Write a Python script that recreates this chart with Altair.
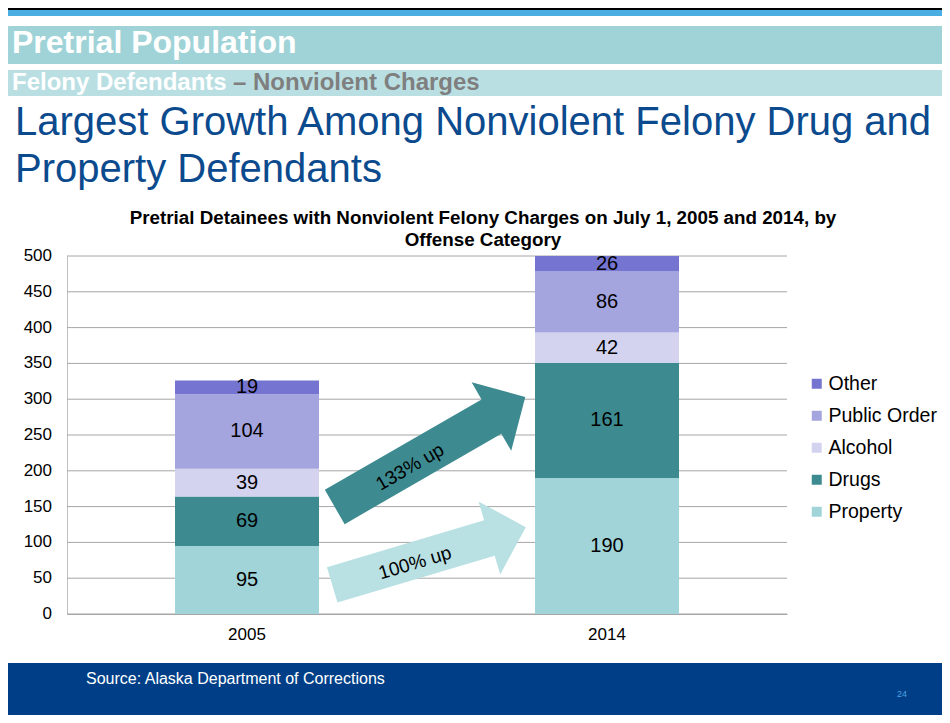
import altair as alt
import pandas as pd

# ---- data ----
years = ["2005", "2014"]
categories = ["Property", "Drugs", "Alcohol", "Public Order", "Other"]
values_2005 = [95, 69, 39, 104, 19]
values_2014 = [190, 161, 42, 86, 26]
legend_order = ["Other", "Public Order", "Alcohol", "Drugs", "Property"]
legend_colors = ["#7575D1", "#A4A4DF", "#D3D3F0", "#3D8B90", "#A0D4D8"]
y_ticks = [0, 50, 100, 150, 200, 250, 300, 350, 400, 450, 500]
arrow_labels = ["133% up", "100% up"]

rows = []
for yr, vals in zip(years, [values_2005, values_2014]):
    for rank, (cat, v) in enumerate(zip(categories, vals)):
        rows.append({"year": yr, "category": cat, "value": v, "rank": rank})
df = pd.DataFrame(rows)
ticks_df = pd.DataFrame({"tick": y_ticks})

FONT = "Liberation Sans"
one = alt.Data(values=[{}])

base = alt.Chart(df).transform_stack(
    stack="value", groupby=["year"], sort=[alt.SortField("rank", order="ascending")], as_=["y0", "y1"]
).transform_calculate(
    mid="(datum.y0 + min(datum.y1, 500)) / 2"
)

x_axis = alt.Axis(title=None, labelAngle=0, labelFontSize=17, labelFont=FONT, labelColor="#000000",
                  ticks=False, tickSize=0, labelPadding=12, domainColor="#A6A6A6", grid=False)
y_axis = alt.Axis(title=None, grid=False, labels=False, ticks=False, tickSize=0,
                  domainColor="#BFBFBF")
x_scale = alt.Scale(paddingInner=0.6, paddingOuter=0.3)
y_scale = alt.Scale(domain=[0, 500], nice=False)

# gridlines and tick labels at every y_ticks value, placed through the y scale
grid = alt.Chart(ticks_df).mark_rule(color="#A6A6A6", strokeWidth=1).encode(
    y=alt.Y("tick:Q", scale=y_scale, axis=y_axis),
    x=alt.value(0), x2=alt.value(720),
)
ylabels = alt.Chart(ticks_df).mark_text(align="right", baseline="middle", fontSize=17,
                                        font=FONT, color="#000000").encode(
    y=alt.Y("tick:Q", scale=y_scale, axis=y_axis),
    x=alt.value(-15),
    text="tick:Q",
)

bars = base.mark_bar(clip=True).encode(
    x=alt.X("year:N", scale=x_scale, axis=x_axis),
    y=alt.Y("y0:Q", scale=y_scale, axis=y_axis),
    y2="y1:Q",
    color=alt.Color("category:N",
                    scale=alt.Scale(domain=legend_order, range=legend_colors),
                    legend=alt.Legend(title=None, orient="none", legendX=740, legendY=118,
                                      symbolType="square", symbolSize=100, symbolStrokeWidth=0,
                                      labelFontSize=19.5, labelFont=FONT, labelColor="#000000",
                                      labelOffset=2, rowPadding=11, padding=0, labelLimit=300)),
)

labels = base.mark_text(fontSize=20, font=FONT, color="#000000", baseline="middle").encode(
    x=alt.X("year:N", scale=x_scale, axis=x_axis),
    y=alt.Y("mid:Q", scale=y_scale, axis=y_axis),
    text="value:Q",
)


def rect(x, x2, y, y2, color):
    return alt.Chart(one).mark_rect(color=color).encode(
        x=alt.value(x), x2=alt.value(x2), y=alt.value(y), y2=alt.value(y2))


def txt(text, x, y, size, color, weight="normal", align="left", **kw):
    return alt.Chart(one).mark_text(text=text, fontSize=size, font=FONT, color=color,
                                    fontWeight=weight, align=align, baseline="alphabetic", **kw).encode(
        x=alt.value(x), y=alt.value(y))


deco = [
    rect(-70, 890, -249, -246, "#000000"),
    rect(-70, 890, -246, -240, "#4BAEE3"),
    rect(-62, 890, -230, -192, "#9FD3D7"),
    rect(-62, 890, -186, -160, "#BADFE3"),
    rect(-62, 890, 407, 470, "#003F87"),
    txt("Pretrial Population", -55, -203, 32, "#FFFFFF", "bold"),
    txt("Felony Defendants", -55, -166, 24, "#FFFFFF", "bold"),
    txt("– Nonviolent Charges", 166, -166, 24, "#7F7F7F", "bold"),
    txt("Largest Growth Among Nonviolent Felony Drug and", -52, -121, 40, "#0C4A8E"),
    txt("Property Defendants", -52, -74, 40, "#0C4A8E"),
    txt(["Pretrial  Detainees with Nonviolent Felony Charges on July 1, 2005 and 2014, by",
         "Offense Category"], 416, -32, 18.8, "#000000", "bold", align="center", lineHeight=22),
    txt("Source: Alaska Department of Corrections", 19, 428, 16, "#FFFFFF"),
    txt("24", 830, 441, 9, "#4BA3E0"),
]

dark_path = "M -1 -0.18 L 0.645 -0.18 L 0.645 -0.36 L 1 0 L 0.645 0.36 L 0.645 0.18 L -1 0.18 Z"
light_path = "M -1 -0.183 L 0.624 -0.183 L 0.624 -0.376 L 1 0 L 0.624 0.376 L 0.624 0.183 L -1 0.183 Z"

arrows = [
    alt.Chart(one).mark_point(shape=dark_path, size=48400, angle=330, filled=True,
                              color="#3D8B90", opacity=1, strokeWidth=0).encode(
        x=alt.value(363), y=alt.value(196)),
    alt.Chart(one).mark_point(shape=light_path, size=40804, angle=343.4, filled=True,
                              color="#B9E0E3", opacity=1, strokeWidth=0).encode(
        x=alt.value(362), y=alt.value(300)),
    alt.Chart(one).mark_text(text=arrow_labels[0], fontSize=19, font=FONT, color="#000000",
                             angle=330, align="center", baseline="middle").encode(
        x=alt.value(343), y=alt.value(211)),
    alt.Chart(one).mark_text(text=arrow_labels[1], fontSize=19, font=FONT, color="#000000",
                             angle=343.4, align="center", baseline="middle").encode(
        x=alt.value(348), y=alt.value(307)),
]

chart = alt.layer(*deco, grid, ylabels, bars, labels, *arrows).properties(
    width=720,
    height=358,
    padding={"left": 59, "top": 248, "right": 155, "bottom": 101},
    autosize=alt.AutoSizeParams(type="none"),
    background="#FFFFFF",
).configure_view(strokeWidth=0)

chart.save("out.html", embed_options={"renderer": "svg", "actions": False})
